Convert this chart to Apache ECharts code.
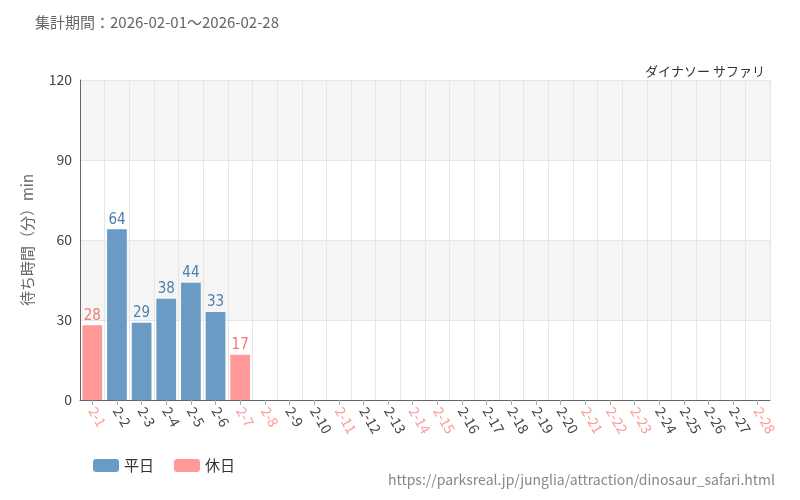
<!DOCTYPE html>
<html><head><meta charset="utf-8">
<script src="https://cdn.jsdelivr.net/npm/echarts@6/dist/echarts.min.js"></script>
<style>html,body{margin:0;padding:0;background:#fff}#c{width:800px;height:500px}</style>
</head><body><div id="c"></div>
<script>
const days=['2-1','2-2','2-3','2-4','2-5','2-6','2-7','2-8','2-9','2-10','2-11','2-12','2-13','2-14','2-15','2-16','2-17','2-18','2-19','2-20','2-21','2-22','2-23','2-24','2-25','2-26','2-27','2-28']
const holidays=['2-1','2-7','2-8','2-11','2-14','2-15','2-21','2-22','2-23','2-28']
const waits=[28,64,29,38,44,33,17]
const yTicks=[0,30,60,90,120]

const blue='#6a9bc5',red='#ff9896'
const weekday=days.map((d,i)=>i<waits.length&&!holidays.includes(d)?waits[i]:'-')
const holiday=days.map((d,i)=>i<waits.length&&holidays.includes(d)?waits[i]:'-')
const font='"Noto Sans CJK JP","Noto Sans",sans-serif'
let chart=echarts.init(document.getElementById('c'))
chart.setOption({
    animation:false,
    textStyle:{fontFamily:font},
    title:[
        {text:'集計期間：2026-02-01～2026-02-28',left:30,top:10,textStyle:{fontSize:15,fontWeight:'normal',color:'#666'}},
        {text:'ダイナソー サファリ',right:30,top:60,textStyle:{fontSize:13,fontWeight:'normal',color:'#333'}},
        {text:'https://parksreal.jp/junglia/attraction/dinosaur_safari.html',right:20,bottom:8,textStyle:{fontSize:14,fontWeight:'normal',color:'#888'}}
    ],
    legend:{left:88,bottom:22,itemWidth:26,itemHeight:13,itemGap:20,textStyle:{fontSize:15,color:'#333'},data:['平日','休日']},
    grid:{left:80,right:30,top:80,bottom:100},
    xAxis:{type:'category',data:days,
        axisTick:{show:true,alignWithLabel:true,lineStyle:{color:'#aaa'}},
        axisLine:{lineStyle:{color:'#666'}},
        splitLine:{show:true,lineStyle:{color:'#e6e6e6'}},
        axisLabel:{interval:0,rotate:-60,fontSize:14,
            color:(v)=>holidays.includes(v)?red:'#444'}},
    yAxis:{type:'value',min:yTicks[0],max:yTicks[yTicks.length-1],interval:30,
        name:'待ち時間（分）min',nameLocation:'middle',nameGap:45,nameRotate:90,
        nameTextStyle:{fontSize:15,color:'#666'},
        axisLine:{show:true,lineStyle:{color:'#666'}},
        axisLabel:{fontSize:14,color:'#444'},
        splitLine:{lineStyle:{color:'#e6e6e6'}},
        splitArea:{show:true,areaStyle:{color:['#fff','#f5f5f5']}}},
    series:[
        {name:'平日',type:'bar',stack:'a',data:weekday,barWidth:'80%',itemStyle:{color:blue},
            label:{show:true,position:'top',distance:2,color:'#4a7fb0',fontSize:15,fontFamily:'"DejaVu Sans Condensed",sans-serif'}},
        {name:'休日',type:'bar',stack:'a',data:holiday,barWidth:'80%',itemStyle:{color:red},
            label:{show:true,position:'top',distance:2,color:'#f07a78',fontSize:15,fontFamily:'"DejaVu Sans Condensed",sans-serif'}}
    ]
})
</script></body></html>
